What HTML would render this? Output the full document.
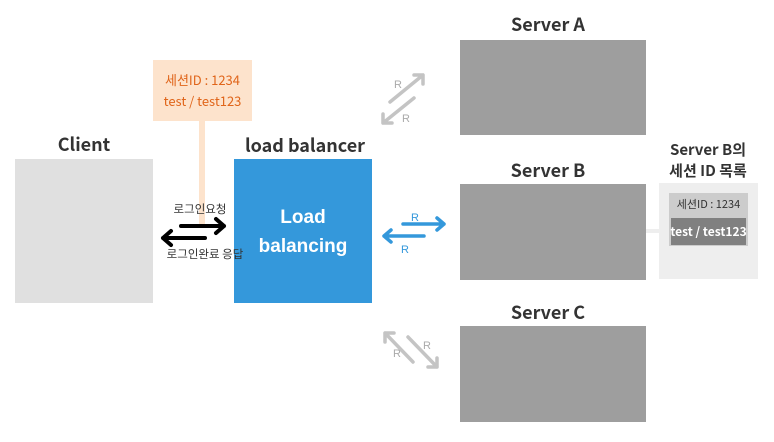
<!DOCTYPE html>
<html><head><meta charset="utf-8"><style>
body{margin:0;width:774px;height:442px;background:#fff;overflow:hidden;position:relative;font-family:"Liberation Sans","Noto Sans CJK KR",sans-serif}
.a{position:absolute}
.t{position:absolute;text-align:center;font-weight:bold;color:#333;font-family:"Noto Sans CJK KR","Liberation Sans",sans-serif}
</style></head><body>
<div class="a" style="left:460px;top:40px;width:186px;height:95px;background:#9e9e9e"></div>
<div class="a" style="left:460px;top:184px;width:186px;height:96px;background:#9e9e9e"></div>
<div class="a" style="left:460px;top:326px;width:186px;height:96px;background:#9e9e9e"></div>
<div class="t" style="left:448px;top:11px;width:200px;font-size:18px">Server A</div>
<div class="t" style="left:448px;top:157px;width:200px;font-size:18px">Server B</div>
<div class="t" style="left:448px;top:299px;width:200px;font-size:18px">Server C</div>
<div class="t" style="left:640px;top:139px;width:136px;font-size:15px;line-height:21px">Server B의<br>세션 ID 목록</div>
<div class="a" style="left:646px;top:229px;width:13px;height:4px;background:#eee"></div>
<div class="a" style="left:659px;top:183px;width:99px;height:96px;background:#eee"></div>
<div class="a" style="left:669px;top:193px;width:79px;height:53px;background:#ccc"></div>
<div class="t" style="left:669px;top:196px;width:79px;font-size:11px;font-weight:normal">세션ID : 1234</div>
<div class="a" style="left:671px;top:218px;width:75px;height:27px;background:#808080"></div>
<div class="t" style="left:666px;top:223px;width:85px;font-size:12px;color:#fff">test / test123</div>
<div class="a" style="left:15px;top:159px;width:138px;height:144px;background:#e0e0e0"></div>
<div class="t" style="left:15px;top:131px;width:138px;font-size:18px">Client</div>
<div class="a" style="left:234px;top:159px;width:138px;height:144px;background:#3498db"></div>
<div class="t" style="left:215px;top:132px;width:180px;font-size:18px">load balancer</div>
<div class="t" style="left:234px;top:203px;width:138px;font-size:19px;line-height:29px;color:#fff;font-family:'Liberation Sans',sans-serif">Load<br>balancing</div>
<div class="a" style="left:199px;top:121px;width:6px;height:104px;background:#fde3cc"></div>
<div class="a" style="left:153px;top:60px;width:99px;height:61px;background:#fde3cc"></div>
<div class="t" style="left:148px;top:69px;width:109px;font-size:13px;line-height:21px;font-weight:normal;color:#e0651a">세션ID : 1234<br>test / test123</div>
<div class="t" style="left:145px;top:201px;width:110px;font-size:11.5px;font-weight:normal">로그인요청</div>
<div class="t" style="left:140px;top:246px;width:130px;font-size:11.5px;font-weight:normal">로그인완료 응답</div>
<svg class="a" style="left:0;top:0" width="774" height="442">
<g fill="none" stroke-linecap="round" stroke-linejoin="round">
<g stroke="#000" stroke-width="4"><path d="M181 226H224M216 219l8 7-8 7"/><path d="M205 238H163M171 231l-8 7 8 7"/></g>
<g stroke="#3498db" stroke-width="3.5"><path d="M403 224H444M437 218l7 6-7 6"/><path d="M424 236H384M391 230l-7 6 7 6"/></g>
<g stroke="#c4c4c4" stroke-width="3.5"><path d="M390 102L423 75M414 75h9v9"/><path d="M414 98L383 123M383 114v9h9"/>
<path d="M413 362L385 333M385 342v-9h9"/><path d="M408 337L437 367M428 367h9v-9"/></g>
</g>
<g font-family="Liberation Sans,sans-serif" font-size="11" text-anchor="middle">
<text x="415" y="221" fill="#3498db">R</text><text x="405" y="253" fill="#3498db">R</text>
<text x="398" y="88" fill="#aaa">R</text><text x="406" y="122" fill="#aaa">R</text>
<text x="397" y="357" fill="#aaa">R</text><text x="427" y="349" fill="#aaa">R</text>
</g></svg>
</body></html>
